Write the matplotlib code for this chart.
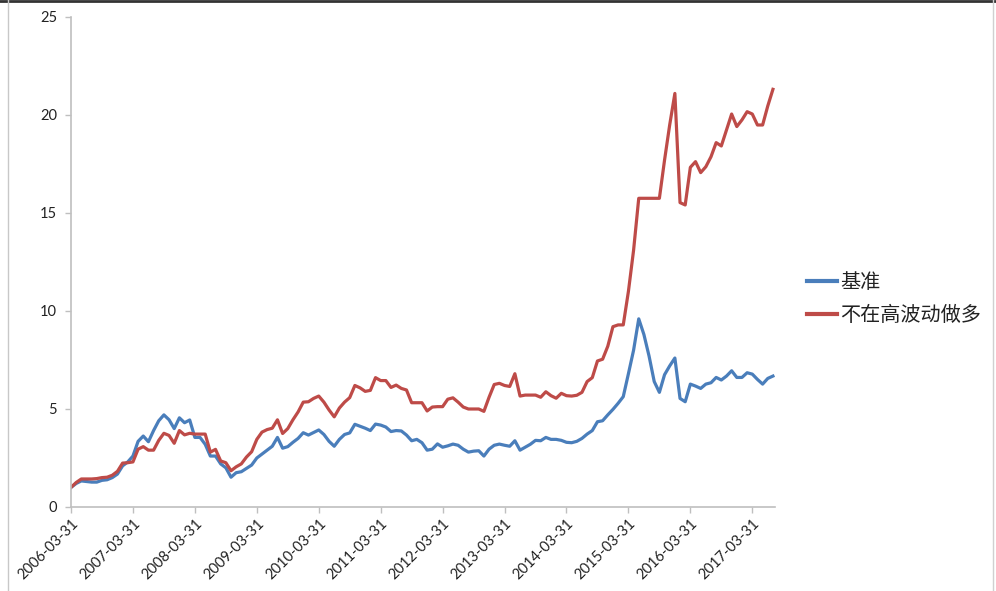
import matplotlib
matplotlib.use('Agg')
import matplotlib.pyplot as plt
from matplotlib.lines import Line2D

plt.rcParams['font.family'] = ['Lato', 'Noto Sans CJK SC', 'DejaVu Sans']

# monthly values, 2006-03-31 .. 2017-07-31
benchmark = [1.0, 1.2, 1.33, 1.3, 1.27, 1.27, 1.36, 1.39, 1.5, 1.68, 2.1, 2.3, 2.6, 3.35, 3.62, 3.33, 3.9, 4.4, 4.7, 4.45, 4.0, 4.55, 4.3, 4.44, 3.55,
             3.55, 3.2, 2.6, 2.6, 2.2, 2.0, 1.52, 1.75, 1.8, 1.97, 2.14, 2.5, 2.7, 2.9, 3.1, 3.55, 3.0, 3.08, 3.3, 3.5, 3.79, 3.67, 3.8, 3.93,
             3.7, 3.35, 3.1, 3.45, 3.7, 3.78, 4.22, 4.12, 4.02, 3.9, 4.23, 4.18, 4.08, 3.85, 3.9, 3.88, 3.67, 3.38, 3.45, 3.28, 2.9, 2.95, 3.22, 3.05,
             3.12, 3.21, 3.15, 2.95, 2.8, 2.85, 2.87, 2.6, 2.95, 3.15, 3.21, 3.15, 3.1, 3.38, 2.9, 3.05, 3.2, 3.4, 3.38, 3.55, 3.45, 3.45, 3.4, 3.3,
             3.28, 3.35, 3.5, 3.72, 3.9, 4.35, 4.4, 4.7, 4.98, 5.29, 5.63, 6.8, 8.0, 9.6, 8.8, 7.7, 6.4, 5.85, 6.75, 7.2, 7.6,
             5.54, 5.37, 6.27, 6.17, 6.05, 6.27, 6.34, 6.61, 6.48, 6.68, 6.95, 6.61, 6.61, 6.85, 6.78, 6.51, 6.27, 6.56, 6.68]

strategy = [1.0, 1.25, 1.43, 1.43, 1.43, 1.45, 1.5, 1.52, 1.62, 1.82, 2.24, 2.26, 2.3, 2.95, 3.08, 2.9, 2.9, 3.4, 3.76, 3.65, 3.25, 3.9, 3.68, 3.76, 3.72,
            3.72, 3.72, 2.8, 2.94, 2.35, 2.26, 1.85, 2.05, 2.2, 2.55, 2.82, 3.45, 3.82, 3.95, 4.02, 4.45, 3.75, 4.0, 4.45, 4.85, 5.35, 5.37, 5.54, 5.66,
            5.35, 4.95, 4.6, 5.05, 5.35, 5.58, 6.2, 6.08, 5.9, 5.95, 6.6, 6.45, 6.45, 6.1, 6.22, 6.05, 5.97, 5.32, 5.32, 5.32, 4.9, 5.1, 5.12, 5.12,
            5.5, 5.57, 5.35, 5.1, 5.0, 5.0, 5.0, 4.88, 5.6, 6.25, 6.31, 6.2, 6.15, 6.8, 5.66, 5.71, 5.71, 5.71, 5.6, 5.88, 5.68, 5.55, 5.8, 5.68,
            5.66, 5.7, 5.85, 6.4, 6.6, 7.45, 7.54, 8.2, 9.2, 9.29, 9.29, 11.0, 13.1, 15.75, 15.75, 15.75, 15.75, 15.75, 17.7, 19.5, 21.1,
            15.53, 15.41, 17.33, 17.62, 17.06, 17.36, 17.87, 18.59, 18.42, 19.24, 20.05, 19.41, 19.75, 20.17, 20.05, 19.49, 19.49, 20.46, 21.31]

tick_labels = ['2006-03-31', '2007-03-31', '2008-03-31', '2009-03-31', '2010-03-31', '2011-03-31',
               '2012-03-31', '2013-03-31', '2014-03-31', '2015-03-31', '2016-03-31', '2017-03-31']
series_names = ['基准', '不在高波动做多']

W, H = 996, 591
fig = plt.figure(figsize=(W / 100, H / 100), dpi=100)
ax = fig.add_axes([71 / W, 1 - 507 / H, (775 - 71) / W, (507 - 17) / H])

x = list(range(len(benchmark)))
ax.plot(x, benchmark, color='#4A7EBB', lw=2.3, solid_joinstyle='round', label=series_names[0])
ax.plot(x, strategy, color='#BE4B48', lw=2.3, solid_joinstyle='round', label=series_names[1])

ax.set_xlim(0, 136.4)
ax.set_ylim(0, 25)
ax.set_yticks([0, 5, 10, 15, 20, 25])
ax.set_xticks(range(0, len(benchmark), 12))
ax.set_xticklabels(tick_labels, rotation=45, ha='right', rotation_mode='anchor')

for s in ['top', 'right']:
    ax.spines[s].set_visible(False)
for s in ['left', 'bottom']:
    ax.spines[s].set_color('#BFBFBF')
    ax.spines[s].set_linewidth(1.2)
ax.tick_params(colors='#BFBFBF', labelcolor='#222222', length=4, width=1, labelsize=10.5)
ax.tick_params(axis='y', pad=6)
ax.tick_params(axis='x', pad=3)

leg = fig.legend(loc='center left', bbox_to_anchor=(807 / W, 1 - 299 / H), frameon=False,
                 prop={'family': ['Noto Sans CJK SC', 'DejaVu Sans'], 'size': 14.5},
                 handlelength=1.5, handletextpad=0.15, labelspacing=0.6,
                 borderpad=0, borderaxespad=0)
for line in leg.get_lines():
    line.set_linewidth(3)
for t in leg.get_texts():
    t.set_color('#222222')

# frame of the screenshot
fig.add_artist(Line2D([0, 1], [1 - 1 / H, 1 - 1 / H], color='#333333', lw=2))
fig.add_artist(Line2D([8 / W, 8 / W], [0, 1], color='#C8C8C8', lw=1))
fig.add_artist(Line2D([993 / W, 993 / W], [0, 1], color='#D0D0D0', lw=1))

plt.savefig('out.png', dpi=100)
